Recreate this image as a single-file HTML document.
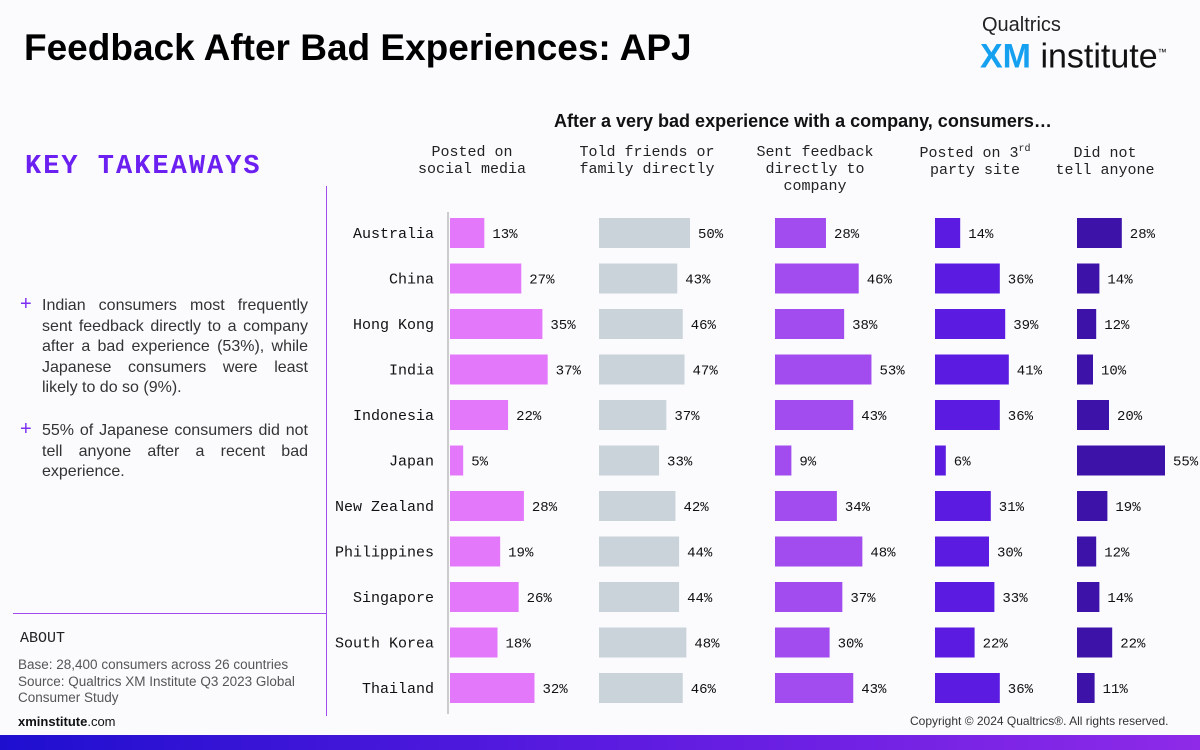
<!DOCTYPE html>
<html><head><meta charset="utf-8"><style>
body{margin:0;width:1200px;height:750px;background:#fbfbfe;position:relative;overflow:hidden;font-family:"Liberation Sans",sans-serif;}
.abs{position:absolute;}
.mono{font-family:"Liberation Mono","DejaVu Sans Mono",monospace;}
</style></head><body>
<div class="abs" style="left:24px;top:27px;font-size:37px;font-weight:bold;color:#000;">Feedback After Bad Experiences: APJ</div>
<div class="abs" style="left:980px;top:14px;width:200px;">
 <div style="font-size:20px;color:#222;margin-left:2px;">Qualtrics</div>
 <div style="font-size:34px;line-height:30px;"><b style="color:#16a0f0;">XM</b><span style="color:#111;"> institute</span><sup style="font-size:9px;">™</sup></div>
</div>
<div class="abs mono" style="left:25px;top:152px;font-size:27px;font-weight:bold;color:#6b1ff0;letter-spacing:2px;">KEY TAKEAWAYS</div>
<div class="abs" style="left:20px;top:296px;width:288px;font-size:16px;line-height:20.5px;color:#333;">
 <span style="position:absolute;left:0;top:-2px;color:#7b2ff0;font-size:20px;">+</span>
 <div style="margin-left:22px;text-align:justify;">Indian consumers most frequently sent feedback directly to a company after a bad experience (53%), while Japanese consumers were least likely to do so (9%).</div></div>
<div class="abs" style="left:20px;top:421px;width:288px;font-size:16px;line-height:20.5px;color:#333;">
 <span style="position:absolute;left:0;top:-2px;color:#7b2ff0;font-size:20px;">+</span>
 <div style="margin-left:22px;text-align:justify;">55% of Japanese consumers did not tell anyone after a recent bad experience.</div></div>
<div class="abs" style="left:13px;top:613px;width:313px;height:1px;background:#a24bef;"></div>
<div class="abs" style="left:326px;top:186px;width:1px;height:530px;background:#a24bef;"></div>
<div class="abs mono" style="left:20px;top:630px;font-size:15px;color:#222;">ABOUT</div>
<div class="abs" style="left:18px;top:657px;width:300px;font-size:13.5px;line-height:16.5px;color:#555;">Base: 28,400 consumers across 26 countries<br>Source: Qualtrics XM Institute Q3 2023 Global Consumer Study</div>
<div class="abs" style="left:18px;top:714px;font-size:13px;color:#111;"><b>xminstitute</b>.com</div>
<div class="abs" style="left:910px;top:714px;font-size:12px;color:#333;">Copyright © 2024 Qualtrics®. All rights reserved.</div>
<div class="abs" style="left:0;top:735px;width:1200px;height:15px;background:linear-gradient(90deg,#1e0fcf,#5b1be0 50%,#8e2ae8);"></div>
<div class="abs" style="left:554px;top:111px;font-size:18px;font-weight:bold;color:#111;">After a very bad experience with a company, consumers…</div>
<svg class="abs" style="left:0;top:0" width="1200" height="735" id="chart"></svg>
<script>
const countries=["Australia","China","Hong Kong","India","Indonesia","Japan","New Zealand","Philippines","Singapore","South Korea","Thailand"];
const seriesNames=[["Posted on","social media"],["Told friends or","family directly"],["Sent feedback","directly to","company"],["Posted on 3rd","party site"],["Did not","tell anyone"]];
const social=[13,27,35,37,22,5,28,19,26,18,32];
const friends=[50,43,46,47,37,33,42,44,44,48,46];
const sentFeedback=[28,46,38,53,43,9,34,48,37,30,43];
const thirdParty=[14,36,39,41,36,6,31,30,33,22,36];
const toldNoOne=[28,14,12,10,20,55,19,12,14,22,11];
const series=[social,friends,sentFeedback,thirdParty,toldNoOne];
const colors=["#e478fa","#c9d3d9","#a24bef","#5b1be0","#3d12a8"];
const x0=[450,599,775,935,1077];
const scale=[2.64,1.82,1.82,1.8,1.6];
const headCx=[472,647,815,975,1105];
const svg=document.getElementById('chart');
const NS="http://www.w3.org/2000/svg";
function yPos(i){return 233+i*45.5;}
function xPos(s,v){return v*scale[s];}
function mk(t,a){const e=document.createElementNS(NS,t);for(const k in a)e.setAttribute(k,a[k]);svg.appendChild(e);return e;}
const ax=mk('line',{x1:448,x2:448,y1:212,y2:714,stroke:'#ccc','stroke-width':2});


seriesNames.forEach((lines,s)=>{
 const baseY=(s===3||s===4)?157:156;
 lines.forEach((l,j)=>{
  const t=mk('text',{x:headCx[s],y:baseY+j*17,'text-anchor':'middle','font-family':'Liberation Mono,monospace','font-size':15,fill:'#222'});
  
  
  if(l.endsWith('3rd')){
   const a=document.createElementNS(NS,'tspan');a.textContent=l.slice(0,-2);t.appendChild(a);
   const sp=document.createElementNS(NS,'tspan');sp.setAttribute('font-size',10);sp.setAttribute('dy',-6);sp.textContent='rd';t.appendChild(sp);
  } else t.textContent=l;
 });
});
countries.forEach((c,i)=>{
 const t=mk('text',{x:434,y:yPos(i)+5,'text-anchor':'end','font-family':'Liberation Mono,monospace','font-size':15,fill:'#111'});
 t.textContent=c;
 
 
 series.forEach((arr,s)=>{
  const w=xPos(s,arr[i]);
  const r=mk('rect',{x:x0[s],y:yPos(i)-15,width:w,height:30,fill:colors[s]});
  
  
  const l=mk('text',{x:x0[s]+w+8,y:yPos(i)+5,'font-family':'Liberation Mono,monospace','font-size':14,fill:'#111'});
  l.textContent=arr[i]+'%';
  
  
 });
});
</script>
</body></html>
